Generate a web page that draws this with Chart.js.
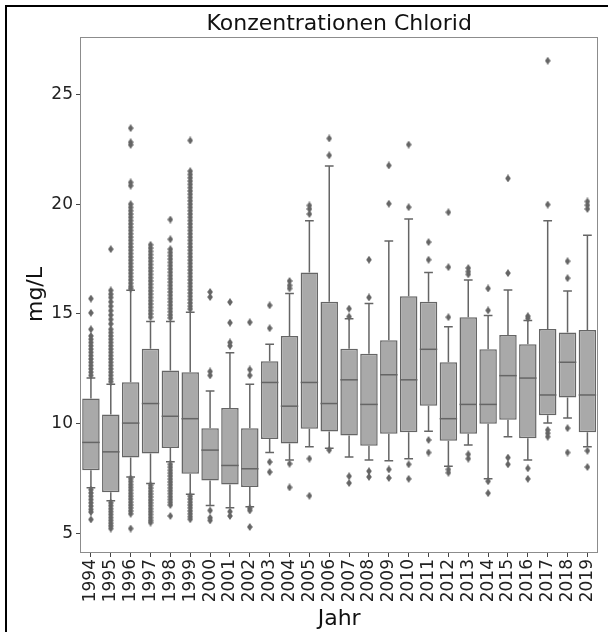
<!DOCTYPE html>
<html>
<head>
<meta charset="utf-8">
<title>Konzentrationen Chlorid</title>
<script src="https://cdn.jsdelivr.net/npm/chart.js@4.4.1/dist/chart.umd.min.js"></script>
<style>
  html, body { margin: 0; padding: 0; background: #fff; }
  #wrap { position: relative; width: 610px; height: 632px; overflow: hidden; }
  #chart { position: absolute; left: 0; top: 0; }
  .frame { position: absolute; background: #000; }
  #frame-left { left: 5px; top: 5px; width: 2px; height: 627px; }
  #frame-top { left: 5px; top: 5px; width: 603px; height: 2px; }
</style>
</head>
<body>
<div id="wrap">
  <canvas id="chart" width="610" height="632"></canvas>
  <div id="frame-left" class="frame"></div>
  <div id="frame-top" class="frame"></div>
</div>
<script>
// Chlorid box plot per year (mg/L)

const years = ['1994', '1995', '1996', '1997', '1998', '1999', '2000', '2001', '2002',
  '2003', '2004', '2005', '2006', '2007', '2008', '2009', '2010', '2011', '2012',
  '2013', '2014', '2015', '2016', '2017', '2018', '2019'];

const q1 = [7.88, 6.88, 8.46, 8.65, 8.9, 7.72, 7.42, 7.23, 7.12,
  9.31, 9.1, 9.77, 9.65, 9.46, 9.0, 9.54, 9.61, 10.82, 9.23,
  9.54, 10.0, 10.18, 9.34, 10.39, 11.19, 9.61];

const medians = [9.15, 8.72, 10.03, 10.92, 10.34, 10.23, 8.8, 8.1, 7.95,
  11.88, 10.8, 11.88, 10.92, 12.0, 10.88, 12.23, 12.0, 13.39, 10.23,
  10.88, 10.88, 12.19, 12.08, 11.31, 12.8, 11.31];

const q3 = [11.15, 10.42, 11.89, 13.42, 12.42, 12.35, 9.8, 10.72, 9.8,
  12.85, 14.0, 16.89, 15.55, 13.42, 13.19, 13.8, 15.81, 15.55, 12.8,
  14.85, 13.39, 14.04, 13.62, 14.31, 14.16, 14.27];

const whiskerLow = [7.08, 6.49, 7.58, 7.28, 8.27, 6.79, 6.28, 6.18, 6.22,
  8.69, 8.35, 8.95, 8.88, 8.49, 8.35, 8.31, 8.41, 9.66, 8.07,
  9.03, 7.5, 9.41, 8.35, 10.03, 10.26, 8.95];

const whiskerHigh = [12.08, 11.8, 16.08, 14.65, 14.65, 15.08, 11.49, 13.23, 11.8,
  13.62, 15.93, 19.24, 21.74, 14.78, 15.47, 18.32, 19.32, 16.89, 14.42,
  16.55, 14.93, 16.09, 14.7, 19.24, 16.04, 18.58];

// outliers per year, same order as years
const fliers = [
  [15.7, 15.05, 14.3, 14.0, 13.85, 13.7, 13.55, 13.4, 13.25, 13.1, 12.95, 12.8, 12.65, 12.5, 12.35, 12.2,
   7.0, 6.85, 6.7, 6.55, 6.4, 6.25, 6.1, 5.98, 5.64],
  [17.95, 16.07, 15.9, 15.75, 15.55, 15.35, 15.15, 14.95, 14.75, 14.55, 14.3, 14.15, 14.0, 13.85, 13.7,
   13.55, 13.4, 13.25, 13.1, 12.95, 12.8, 12.65, 12.5, 12.35, 12.2, 12.05, 11.92,
   6.4, 6.27, 6.13, 6.0, 5.87, 5.73, 5.6, 5.47, 5.35, 5.23],
  [23.46, 22.82, 22.7, 20.99, 20.84, 20.0, 19.85, 19.7, 19.55, 19.4, 19.25, 19.1, 18.95, 18.8, 18.65,
   18.5, 18.35, 18.2, 18.05, 17.9, 17.75, 17.6, 17.45, 17.3, 17.15, 17.0, 16.85, 16.7, 16.55, 16.4,
   16.25, 16.15,
   7.5, 7.37, 7.23, 7.1, 6.97, 6.83, 6.7, 6.57, 6.43, 6.3, 6.17, 6.03, 5.9, 5.23],
  [18.15, 18.0, 17.85, 17.7, 17.55, 17.4, 17.25, 17.1, 16.95, 16.8, 16.65, 16.5, 16.35, 16.2, 16.05,
   15.9, 15.75, 15.6, 15.45, 15.3, 15.15, 15.0, 14.85,
   7.2, 7.07, 6.93, 6.8, 6.67, 6.53, 6.4, 6.27, 6.13, 6.0, 5.87, 5.73, 5.6, 5.5],
  [19.3, 18.4, 17.95, 17.8, 17.65, 17.5, 17.35, 17.2, 17.05, 16.9, 16.75, 16.6, 16.45, 16.3, 16.15,
   16.0, 15.85, 15.7, 15.55, 15.4, 15.25, 15.1, 14.95, 14.82,
   8.15, 8.02, 7.88, 7.75, 7.62, 7.48, 7.35, 7.22, 7.08, 6.95, 6.82, 6.68, 6.55, 6.42, 6.3, 5.8],
  [22.9, 21.5, 21.35, 21.2, 21.05, 20.9, 20.75, 20.6, 20.45, 20.3, 20.15, 20.0, 19.85, 19.7, 19.55,
   19.4, 19.25, 19.1, 18.95, 18.8, 18.65, 18.5, 18.35, 18.2, 18.05, 17.9, 17.75, 17.6, 17.45, 17.3,
   17.15, 17.0, 16.85, 16.7, 16.55, 16.4, 16.25, 16.1, 15.95, 15.8, 15.65, 15.5, 15.35, 15.22,
   6.7, 6.57, 6.43, 6.3, 6.17, 6.03, 5.9, 5.77, 5.65],
  [16.0, 15.77, 12.38, 12.2, 6.05, 5.72, 5.6],
  [15.54, 14.6, 13.7, 13.55, 6.0, 5.8],
  [14.62, 12.47, 12.2, 6.15, 6.05, 5.3],
  [15.39, 14.35, 8.26, 7.8],
  [16.5, 16.3, 16.16, 8.18, 7.1],
  [19.94, 19.78, 19.55, 8.41, 6.72],
  [22.99, 22.22, 8.8],
  [15.24, 14.88, 7.61, 7.3],
  [17.47, 15.75, 7.84, 7.58],
  [21.76, 20.02, 7.92, 7.53],
  [22.71, 19.86, 8.15, 7.49],
  [18.27, 17.47, 9.26, 8.69],
  [19.63, 17.13, 14.85, 7.92, 7.77],
  [17.09, 16.93, 16.8, 8.61, 8.41],
  [16.16, 15.16, 7.38, 6.84],
  [21.17, 16.86, 8.46, 8.15],
  [14.9, 14.8, 7.97, 7.49],
  [26.53, 19.98, 9.72, 9.57, 9.41],
  [17.4, 16.63, 9.8, 8.69],
  [20.12, 19.95, 19.78, 8.77, 8.03]
];

const yTicks = [5, 10, 15, 20, 25];
const Y_MIN = 4.16;
const Y_MAX = 27.61;

const BOX_FILL = '#a9a9a9';
const LINE_GRAY = '#656565';
const FONT = "'DejaVu Sans', 'Liberation Sans', sans-serif";

Chart.defaults.font.family = FONT;

// thin diamond like matplotlib's 'd' marker
function makeDiamond() {
    const c = document.createElement('canvas');
    c.width = 6;
    c.height = 8;
    const g = c.getContext('2d');
    g.fillStyle = LINE_GRAY;
    g.beginPath();
    g.moveTo(3, 0);
    g.lineTo(5.8, 4);
    g.lineTo(3, 8);
    g.lineTo(0.2, 4);
    g.closePath();
    g.fill();
    return c;
}

const flierPoints = [];
fliers.forEach((list, i) => {
    list.forEach(v => flierPoints.push({ x: years[i], y: v }));
});

// whiskers, caps, medians, frame and title
const boxExtras = {
    id: 'boxExtras',
    beforeDatasetsDraw(chart) {
        const ctx = chart.ctx;
        const yScale = chart.scales.y;
        const bars = chart.getDatasetMeta(0).data;
        ctx.save();
        ctx.strokeStyle = LINE_GRAY;
        ctx.lineWidth = 1.5;
        bars.forEach((bar, i) => {
            const x = bar.x;
            const half = bar.width / 4;
            const pairs = [[q3[i], whiskerHigh[i]], [q1[i], whiskerLow[i]]];
            pairs.forEach(([from, to]) => {
                const y0 = yScale.getPixelForValue(from);
                const y1 = yScale.getPixelForValue(to);
                ctx.beginPath();
                ctx.moveTo(x, y0);
                ctx.lineTo(x, y1);
                ctx.moveTo(x - half, y1);
                ctx.lineTo(x + half, y1);
                ctx.stroke();
            });
        });
        ctx.restore();
    },
    afterDatasetDraw(chart, args) {
        if (args.index !== 0) return;
        const ctx = chart.ctx;
        const yScale = chart.scales.y;
        ctx.save();
        ctx.strokeStyle = LINE_GRAY;
        ctx.lineWidth = 1.5;
        args.meta.data.forEach((bar, i) => {
            const y = yScale.getPixelForValue(medians[i]);
            ctx.beginPath();
            ctx.moveTo(bar.x - bar.width / 2, y);
            ctx.lineTo(bar.x + bar.width / 2, y);
            ctx.stroke();
        });
        ctx.restore();
    },
    afterDraw(chart) {
        const ctx = chart.ctx;
        const a = chart.chartArea;
        ctx.save();
        ctx.strokeStyle = '#8c8c8c';
        ctx.lineWidth = 1;
        ctx.strokeRect(Math.round(a.left) - 0.5, Math.round(a.top) + 0.5,
            Math.round(a.right - a.left) + 1, Math.round(a.bottom - a.top));
        ctx.fillStyle = '#111';
        ctx.font = '22px ' + FONT;
        ctx.textAlign = 'center';
        ctx.textBaseline = 'alphabetic';
        ctx.fillText('Konzentrationen Chlorid', (a.left + a.right) / 2, 30);
        ctx.restore();
    }
};

const ctx = document.getElementById('chart').getContext('2d');

new Chart(ctx, {
    type: 'bar',
    data: {
        labels: years,
        datasets: [
            {
                label: 'Box',
                data: years.map((_, i) => [q1[i], q3[i]]),
                backgroundColor: BOX_FILL,
                borderColor: LINE_GRAY,
                borderWidth: 1.5,
                borderSkipped: false,
                barPercentage: 0.88,
                categoryPercentage: 1
            },
            {
                type: 'scatter',
                label: 'Ausreißer',
                data: flierPoints,
                pointStyle: makeDiamond(),
                pointRadius: 3,
                backgroundColor: LINE_GRAY,
                borderColor: LINE_GRAY
            }
        ]
    },
    options: {
        responsive: false,
        animation: false,
        layout: { padding: { left: 0, right: 10, top: 37, bottom: 0 } },
        plugins: {
            legend: { display: false },
            title: { display: false },
            tooltip: { enabled: false }
        },
        scales: {
            x: {
                type: 'category',
                offset: true,
                afterFit: s => { s.height = 80; },
                border: { display: false },
                grid: { offset: false, drawOnChartArea: false, drawTicks: true, tickLength: 5, tickColor: '#444' },
                ticks: {
                    autoSkip: false,
                    minRotation: 90,
                    maxRotation: 90,
                    padding: 2,
                    color: '#222',
                    font: { size: 17 }
                },
                title: {
                    display: true,
                    text: 'Jahr',
                    color: '#111',
                    font: { size: 22 },
                    padding: { top: 1, bottom: 0 }
                }
            },
            y: {
                min: Y_MIN,
                max: Y_MAX,
                afterBuildTicks: s => { s.ticks = yTicks.map(v => ({ value: v })); },
                afterFit: s => { s.width = 81; },
                border: { display: false },
                grid: { drawOnChartArea: false, drawTicks: true, tickLength: 5, tickColor: '#444' },
                ticks: {
                    padding: 3,
                    color: '#222',
                    font: { size: 17 }
                },
                title: {
                    display: true,
                    text: 'mg/L',
                    color: '#111',
                    font: { size: 22 },
                    padding: { top: 23, bottom: 0 }
                }
            }
        }
    },
    plugins: [boxExtras]
});
</script>
</body>
</html>
